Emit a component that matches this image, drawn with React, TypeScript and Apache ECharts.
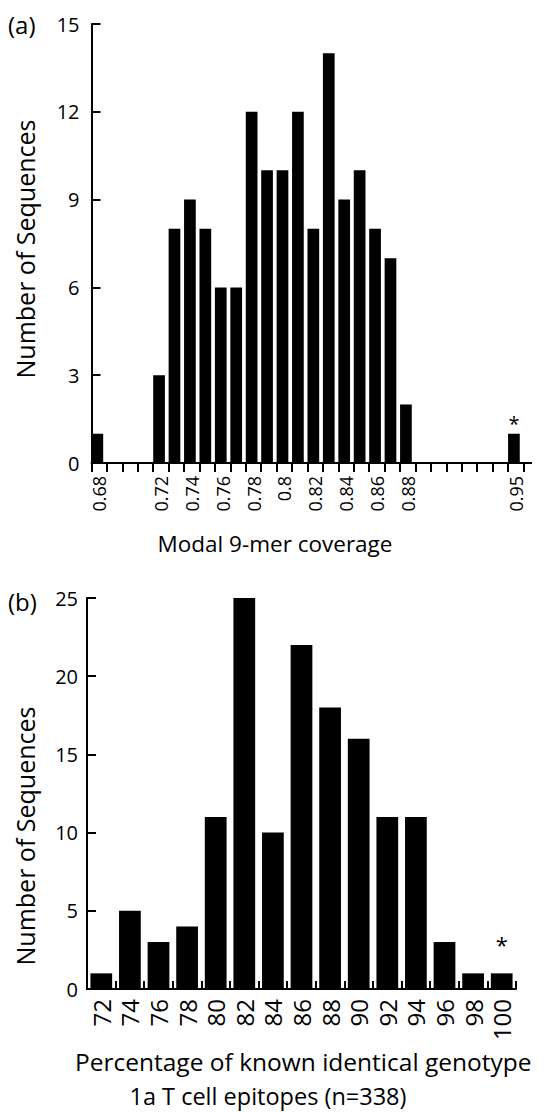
import React, { useEffect, useRef } from 'react';
import * as echarts from 'echarts';

const FONT = '"Open Sans", "Noto Sans", sans-serif';

// Panel (a): Modal 9-mer coverage histogram
const topCategories = [
  '0.68', '0.69', '0.70', '0.71', '0.72', '0.73', '0.74', '0.75', '0.76', '0.77',
  '0.78', '0.79', '0.8', '0.81', '0.82', '0.83', '0.84', '0.85', '0.86', '0.87',
  '0.88', '0.89', '0.90', '0.91', '0.92', '0.93', '0.94', '0.95',
];
const topCounts = [1, 0, 0, 0, 3, 8, 9, 8, 6, 6, 12, 10, 10, 12, 8, 14, 9, 10, 8, 7, 2, 0, 0, 0, 0, 0, 0, 1];
const topShownLabels = ['0.68', '0.72', '0.74', '0.76', '0.78', '0.8', '0.82', '0.84', '0.86', '0.88', '0.95'];
const topStarred = ['0.95'];

// Panel (b): percentage of known identical genotype 1a T cell epitopes
const bottomCategories = ['72', '74', '76', '78', '80', '82', '84', '86', '88', '90', '92', '94', '96', '98', '100'];
const bottomCounts = [1, 5, 3, 4, 11, 25, 10, 22, 18, 16, 11, 11, 3, 1, 1];
const bottomStarred = ['100'];

export default function App() {
  const ref = useRef<HTMLDivElement>(null);

  useEffect(() => {
    if (!ref.current) return;
    const chart = echarts.init(ref.current, undefined, { renderer: 'svg' });

    const axisLineStyle = { color: '#000', width: 2 };

    const topData = topCounts.map((v, i) =>
      topStarred.includes(topCategories[i])
        ? {
            value: v,
            label: {
              show: true,
              position: 'top',
              distance: 0,
              formatter: '*',
              fontSize: 20,
              fontFamily: FONT,
              color: '#000',
            },
          }
        : v
    );
    const bottomData = bottomCounts.map((v, i) =>
      bottomStarred.includes(bottomCategories[i])
        ? {
            value: v,
            label: {
              show: true,
              position: 'top',
              distance: 18,
              formatter: '*',
              fontSize: 22,
              fontFamily: FONT,
              color: '#000',
            },
          }
        : v
    );

    const option: any = {
      animation: false,
      backgroundColor: '#fff',
      textStyle: { fontFamily: FONT, color: '#000' },
      grid: [
        { left: 91.5, top: 24, width: 432, height: 439 },
        { left: 87, top: 598, width: 429, height: 391 },
      ],
      xAxis: [
        {
          gridIndex: 0,
          type: 'category',
          data: topCategories,
          boundaryGap: true,
          axisLine: { show: true, lineStyle: axisLineStyle },
          axisTick: { show: true, inside: false, length: 9, interval: 0, lineStyle: axisLineStyle },
          axisLabel: {
            interval: 0,
            rotate: 90,
            margin: 13,
            fontSize: 18,
            color: '#000',
            fontFamily: FONT,
            formatter: (v: string) => (topShownLabels.includes(v) ? v : ''),
          },
          splitLine: { show: false },
        },
        {
          gridIndex: 1,
          type: 'category',
          data: bottomCategories,
          boundaryGap: true,
          axisLine: { show: true, lineStyle: axisLineStyle },
          axisTick: { show: true, inside: true, length: 8, interval: 0, lineStyle: axisLineStyle },
          axisLabel: {
            interval: 0,
            rotate: 90,
            margin: 10,
            fontSize: 24,
            color: '#000',
            fontFamily: FONT,
          },
          splitLine: { show: false },
        },
      ],
      yAxis: [
        {
          gridIndex: 0,
          type: 'value',
          min: 0,
          max: 15,
          interval: 3,
          axisLine: { show: true, lineStyle: axisLineStyle },
          axisTick: { show: true, inside: true, length: 9, lineStyle: axisLineStyle },
          axisLabel: { fontSize: 20, margin: 12, color: '#000', fontFamily: FONT },
          splitLine: { show: false },
        },
        {
          gridIndex: 1,
          type: 'value',
          min: 0,
          max: 25,
          interval: 5,
          axisLine: { show: true, lineStyle: axisLineStyle },
          axisTick: { show: true, inside: true, length: 9, lineStyle: axisLineStyle },
          axisLabel: { fontSize: 20, margin: 9, color: '#000', fontFamily: FONT },
          splitLine: { show: false },
        },
      ],
      series: [
        {
          type: 'bar',
          xAxisIndex: 0,
          yAxisIndex: 0,
          data: topData,
          barWidth: 11.7,
          barGap: '-68%',
          itemStyle: { color: '#000' },
        },
        {
          // spacer series (empty) that keeps the bars at the left of each bin
          type: 'bar',
          xAxisIndex: 0,
          yAxisIndex: 0,
          data: [],
          barWidth: 11.7,
          itemStyle: { color: 'transparent' },
          silent: true,
        },
        {
          type: 'bar',
          xAxisIndex: 1,
          yAxisIndex: 1,
          data: bottomData,
          barCategoryGap: '24%',
          itemStyle: { color: '#000' },
        },
      ],
      graphic: [
        {
          type: 'line',
          shape: { x1: 523, y1: 463, x2: 532, y2: 463 },
          style: { stroke: '#000', lineWidth: 2 },
        },
        {
          type: 'text',
          x: 8,
          y: 24,
          style: { text: '(a)', fontSize: 24, fontFamily: FONT, fill: '#000', textAlign: 'left', textVerticalAlign: 'middle' },
        },
        {
          type: 'text',
          x: 25,
          y: 249,
          rotation: Math.PI / 2,
          style: { text: 'Number of Sequences', fontSize: 25, fontFamily: FONT, fill: '#000', textAlign: 'center', textVerticalAlign: 'middle' },
        },
        {
          type: 'text',
          x: 275,
          y: 543,
          style: { text: 'Modal 9-mer coverage', fontSize: 22.5, fontFamily: FONT, fill: '#000', textAlign: 'center', textVerticalAlign: 'middle' },
        },
        {
          type: 'text',
          x: 8,
          y: 601,
          style: { text: '(b)', fontSize: 24, fontFamily: FONT, fill: '#000', textAlign: 'left', textVerticalAlign: 'middle' },
        },
        {
          type: 'text',
          x: 25,
          y: 836,
          rotation: Math.PI / 2,
          style: { text: 'Number of Sequences', fontSize: 25, fontFamily: FONT, fill: '#000', textAlign: 'center', textVerticalAlign: 'middle' },
        },
        {
          type: 'text',
          x: 75,
          y: 1061,
          style: { text: 'Percentage of known identical genotype', fontSize: 24.5, fontFamily: FONT, fill: '#000', textAlign: 'left', textVerticalAlign: 'middle' },
        },
        {
          type: 'text',
          x: 268,
          y: 1096,
          style: { text: '1a T cell epitopes (n=338)', fontSize: 23.5, fontFamily: FONT, fill: '#000', textAlign: 'center', textVerticalAlign: 'middle' },
        },
      ],
    };

    chart.setOption(option);
    return () => chart.dispose();
  }, []);

  return (
    <div
      ref={ref}
      style={{ position: 'fixed', left: 0, top: 0, width: 554, height: 1112, background: '#fff' }}
    />
  );
}
